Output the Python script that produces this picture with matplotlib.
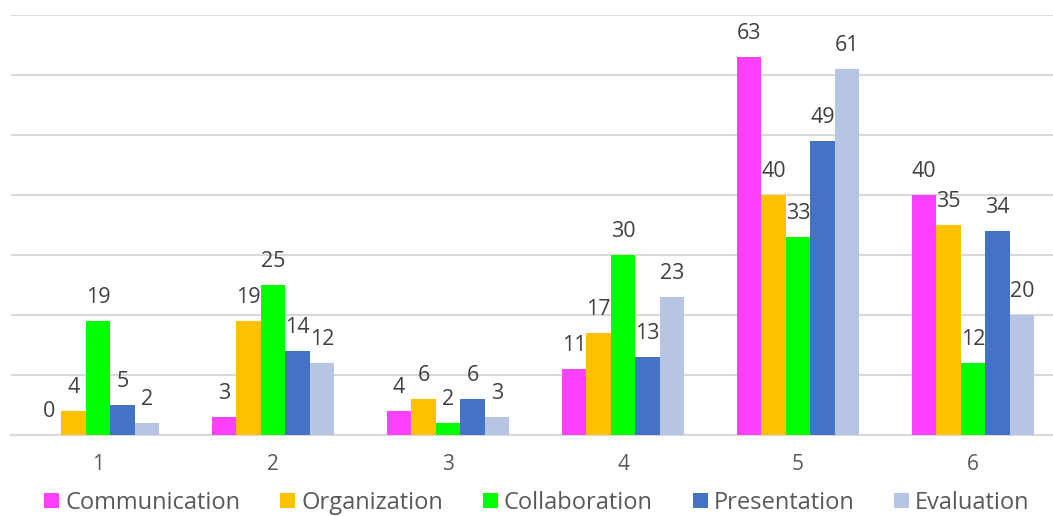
import matplotlib.pyplot as plt
import numpy as np

plt.rcParams['font.family'] = ['Open Sans', 'DejaVu Sans']

categories = ['1', '2', '3', '4', '5', '6']
series_names = ['Communication', 'Organization', 'Collaboration', 'Presentation', 'Evaluation']
communication = [0, 3, 4, 11, 63, 40]
organization = [4, 19, 6, 17, 40, 35]
collaboration = [19, 25, 2, 30, 33, 12]
presentation = [5, 14, 6, 13, 49, 34]
evaluation = [2, 12, 3, 23, 61, 20]

values = [communication, organization, collaboration, presentation, evaluation]
colors = ['#FF40FF', '#FFC000', '#00FF00', '#4472C4', '#B8C4E4']

fig = plt.figure(figsize=(10.53, 5.16), dpi=100)
# plot area runs slightly past the right edge of the picture
ax = fig.add_axes([10.5 / 1053, 1 - 435 / 516, 1050 / 1053, 420 / 516])

x = np.arange(len(categories))
w = 0.14
bars = []
for i, (vals, col) in enumerate(zip(values, colors)):
    pos = x + (i - 2) * w
    b = ax.bar(pos, vals, width=w, color=col, zorder=3)
    bars.append(b)
    # data labels above each bar
    for px, v in zip(pos, vals):
        ax.annotate(str(v), (px, v), xytext=(0, 13), textcoords='offset points',
                    ha='center', va='baseline', fontsize=15.5, color='#404040')

ax.set_xlim(-0.5, 5.5)
ax.set_ylim(0, 70)
ax.set_yticks(np.arange(0, 71, 10))
ax.yaxis.grid(True, color='#D9D9D9', linewidth=1.5, zorder=0)
ax.tick_params(axis='y', left=False, labelleft=False)
ax.tick_params(axis='x', length=0, pad=14, labelsize=15, labelcolor='#595959')
ax.set_xticks(x)
ax.set_xticklabels(categories)
for s in ['top', 'right', 'left']:
    ax.spines[s].set_visible(False)
ax.spines['bottom'].set_color('#D9D9D9')
ax.spines['bottom'].set_linewidth(1.5)

fig.legend(bars, series_names, loc='center', bbox_to_anchor=(537 / 1053, 1 - 503 / 516),
           ncol=5, frameon=False, fontsize=17, labelcolor='#595959',
           handlelength=0.63, handleheight=0.63, handletextpad=0.25, columnspacing=1.7,
           borderpad=0, borderaxespad=0)

fig.savefig('out.png', dpi=100)
